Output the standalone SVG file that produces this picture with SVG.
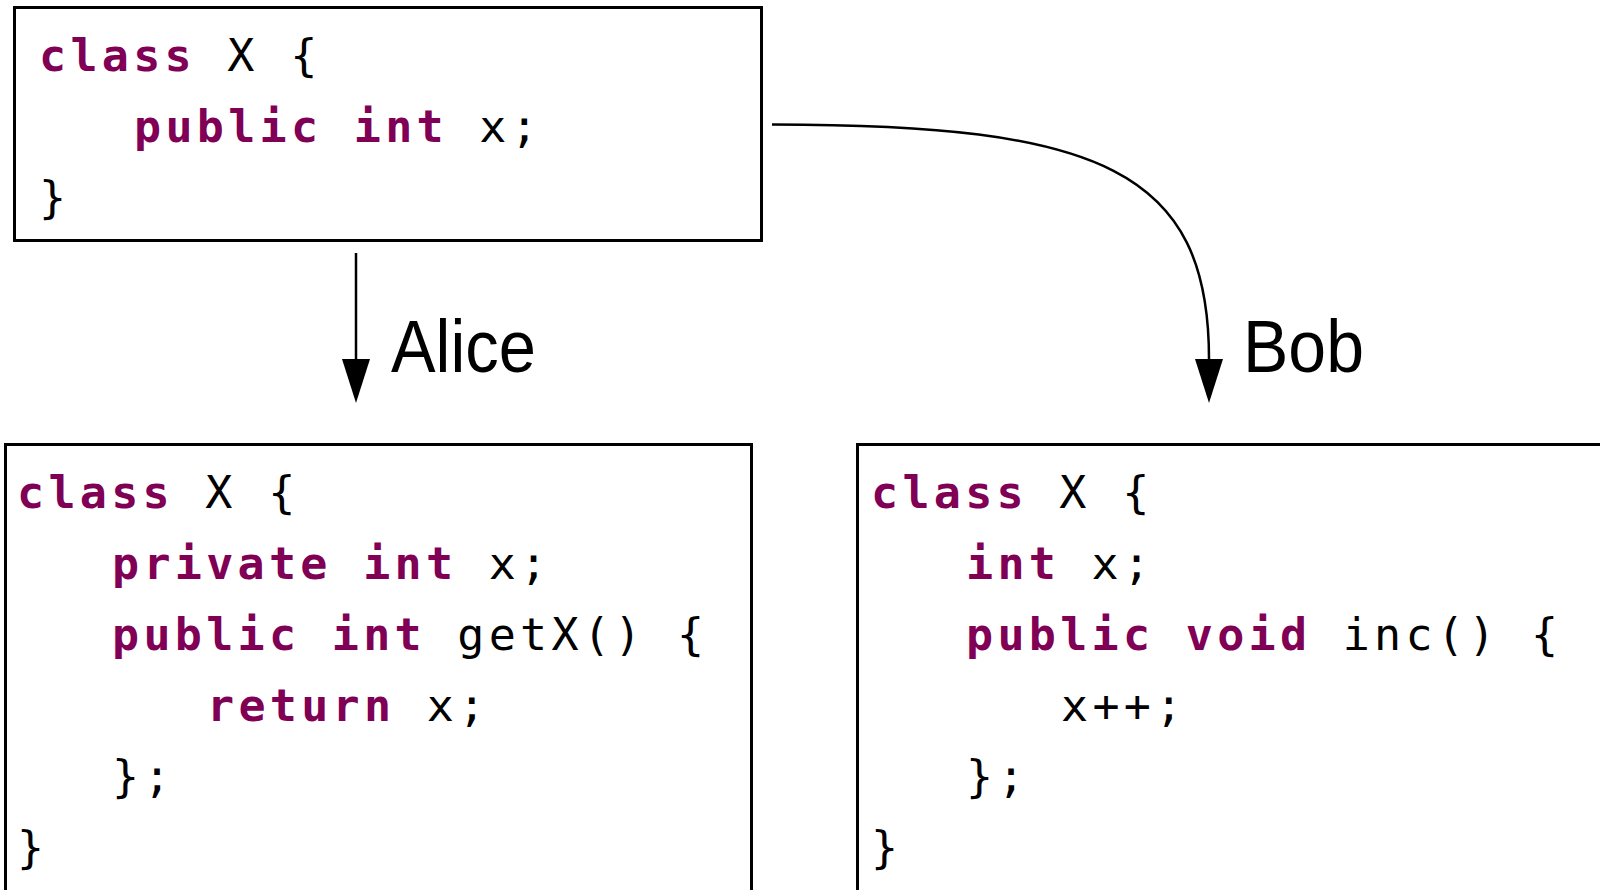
<svg xmlns="http://www.w3.org/2000/svg" width="1600" height="890" viewBox="0 0 1600 890">
<style>
.box{fill:#fff;stroke:#000;stroke-width:3}
.code{font-family:"DejaVu Sans Mono","Liberation Mono",monospace;font-size:45px;letter-spacing:4.3px;fill:#000}
.kw{font-weight:bold;fill:#7F0055}
.edge{fill:none;stroke:#000;stroke-width:2.5}
.lbl{font-family:"Liberation Sans",Arial,sans-serif;font-size:75px;fill:#000}
</style>
<defs>
<marker id="ah" markerUnits="userSpaceOnUse" markerWidth="44" markerHeight="28" viewBox="0 0 44 28" refX="0" refY="14" orient="auto">
<path d="M0,0 L44,14 L0,28 z" fill="#000"/>
</marker>
</defs>
<rect x="0" y="0" width="1600" height="890" fill="#fff"/>
<g id="node-original">
<rect class="box" x="14.5" y="7.5" width="747" height="233"/>
<text class="code" x="39" y="71"><tspan class="kw">class</tspan> X {</text>
<text class="code" x="134" y="142"><tspan class="kw">public int</tspan> x;</text>
<text class="code" x="39" y="213">}</text>
</g>
<g id="node-alice">
<rect class="box" x="5.5" y="444.5" width="746" height="470"/>
<text class="code" x="17" y="508"><tspan class="kw">class</tspan> X {</text>
<text class="code" x="112" y="579"><tspan class="kw">private int</tspan> x;</text>
<text class="code" x="112" y="650"><tspan class="kw">public int</tspan> getX() {</text>
<text class="code" x="207" y="721"><tspan class="kw">return</tspan> x;</text>
<text class="code" x="112" y="792">};</text>
<text class="code" x="17" y="863">}</text>
</g>
<g id="node-bob">
<rect class="box" x="857.5" y="444.5" width="800" height="470"/>
<text class="code" x="871" y="508"><tspan class="kw">class</tspan> X {</text>
<text class="code" x="966" y="579"><tspan class="kw">int</tspan> x;</text>
<text class="code" x="966" y="650"><tspan class="kw">public void</tspan> inc() {</text>
<text class="code" x="1061" y="721">x++;</text>
<text class="code" x="966" y="792">};</text>
<text class="code" x="871" y="863">}</text>
</g>
<g id="connectors">
<path id="edge-alice" class="edge" d="M356,253 L356,359" marker-end="url(#ah)"/>
<path id="edge-bob" class="edge" d="M772,124.5 C1100,124.5 1209,170 1209,359" marker-end="url(#ah)"/>
<text class="lbl" x="391" y="372" textLength="145" lengthAdjust="spacingAndGlyphs">Alice</text>
<text class="lbl" x="1243" y="372" textLength="121" lengthAdjust="spacingAndGlyphs">Bob</text>
</g>
</svg>
